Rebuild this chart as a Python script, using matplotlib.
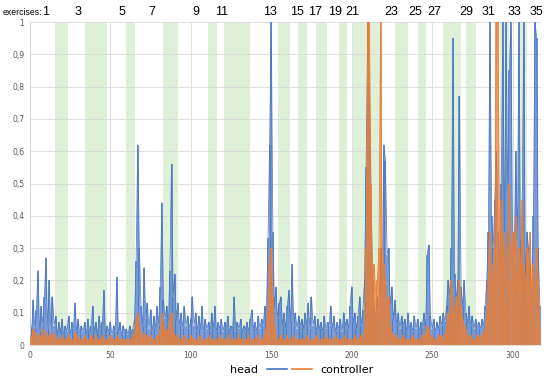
import matplotlib
matplotlib.use("Agg")
import matplotlib.pyplot as plt
import matplotlib.transforms as mtransforms
import numpy as np

# head movement per sample
head = [0.09, 0.03, 0.14, 0.05, 0.11, 0.23, 0.04, 0.12, 0.06, 0.15,
        0.27, 0.05, 0.2, 0.04, 0.15, 0.06, 0.09, 0.03, 0.07, 0.04,
        0.08, 0.03, 0.06, 0.04, 0.09, 0.03, 0.07, 0.05, 0.13, 0.04,
        0.08, 0.03, 0.06, 0.04, 0.07, 0.03, 0.08, 0.04, 0.06, 0.12,
        0.04, 0.07, 0.03, 0.09, 0.05, 0.07, 0.17, 0.03, 0.06, 0.04,
        0.07, 0.03, 0.06, 0.04, 0.21, 0.04, 0.07, 0.03, 0.06, 0.04,
        0.05, 0.03, 0.06, 0.04, 0.05, 0.08, 0.26, 0.62, 0.3, 0.12,
        0.06, 0.24, 0.08, 0.13, 0.05, 0.11, 0.04, 0.09, 0.05, 0.12,
        0.06, 0.18, 0.44, 0.14, 0.08, 0.12, 0.06, 0.23, 0.56, 0.15,
        0.22, 0.08, 0.13, 0.06, 0.1, 0.05, 0.12, 0.06, 0.09, 0.05,
        0.08, 0.15, 0.06, 0.1, 0.04, 0.09, 0.05, 0.12, 0.04, 0.08,
        0.05, 0.07, 0.04, 0.1, 0.05, 0.12, 0.04, 0.07, 0.05, 0.08,
        0.04, 0.07, 0.05, 0.09, 0.04, 0.06, 0.05, 0.15, 0.04, 0.07,
        0.05, 0.08, 0.04, 0.06, 0.05, 0.07, 0.04, 0.08, 0.11, 0.05,
        0.07, 0.04, 0.09, 0.05, 0.08, 0.06, 0.12, 0.1, 0.33, 0.62,
        1.0, 0.35, 0.12, 0.18, 0.08, 0.13, 0.15, 0.06, 0.1, 0.05,
        0.12, 0.17, 0.07, 0.25, 0.06, 0.1, 0.05, 0.09, 0.06, 0.08,
        0.05, 0.1, 0.06, 0.13, 0.05, 0.15, 0.06, 0.09, 0.04, 0.08,
        0.05, 0.07, 0.04, 0.09, 0.05, 0.07, 0.06, 0.12, 0.05, 0.09,
        0.04, 0.07, 0.05, 0.08, 0.04, 0.1, 0.06, 0.08, 0.05, 0.12,
        0.18, 0.07, 0.1, 0.05, 0.09, 0.15, 0.06, 0.11, 0.2, 0.55,
        1.0, 0.8, 0.45, 0.2, 0.12, 0.08, 0.15, 0.1, 0.3, 0.12,
        0.62, 0.57, 0.28, 0.3, 0.12, 0.18, 0.08, 0.14, 0.06, 0.1,
        0.05, 0.09, 0.06, 0.08, 0.04, 0.1, 0.05, 0.07, 0.04, 0.09,
        0.05, 0.08, 0.04, 0.07, 0.06, 0.1, 0.05, 0.28, 0.31, 0.09,
        0.05, 0.08, 0.04, 0.07, 0.05, 0.09, 0.06, 0.1, 0.07, 0.12,
        0.2, 0.15, 0.3, 0.95, 0.22, 0.14, 0.2, 0.77, 0.18, 0.12,
        0.2, 0.1, 0.07, 0.12, 0.06, 0.09, 0.05, 0.08, 0.06, 0.07,
        0.05, 0.08, 0.06, 0.12, 0.2, 0.35, 1.0, 0.4, 0.3, 0.45,
        0.6, 0.35, 0.25, 0.5, 1.0, 0.3, 1.0, 0.45, 0.85, 1.0,
        0.35, 0.25, 0.6, 0.3, 1.0, 0.25, 0.4, 1.0, 0.2, 0.35,
        0.3, 0.25, 0.1, 0.4, 1.0, 0.95, 0.3, 0.12]

# controller movement per sample
controller = [0.03, 0.01, 0.05, 0.02, 0.04, 0.01, 0.03, 0.02, 0.05, 0.01,
              0.04, 0.02, 0.03, 0.01, 0.04, 0.02, 0.03, 0.01, 0.02, 0.01,
              0.03, 0.01, 0.02, 0.01, 0.03, 0.01, 0.02, 0.01, 0.04, 0.01,
              0.03, 0.01, 0.02, 0.01, 0.03, 0.01, 0.02, 0.01, 0.03, 0.02,
              0.01, 0.03, 0.01, 0.02, 0.01, 0.03, 0.02, 0.01, 0.02, 0.01,
              0.03, 0.01, 0.02, 0.01, 0.03, 0.01, 0.02, 0.01, 0.02, 0.01,
              0.02, 0.01, 0.02, 0.01, 0.03, 0.04, 0.08, 0.1, 0.06, 0.03,
              0.02, 0.04, 0.02, 0.03, 0.01, 0.03, 0.01, 0.02, 0.01, 0.03,
              0.02, 0.05, 0.1, 0.06, 0.04, 0.05, 0.03, 0.08, 0.1, 0.04,
              0.03, 0.02, 0.03, 0.01, 0.02, 0.01, 0.03, 0.01, 0.02, 0.01,
              0.03, 0.01, 0.02, 0.01, 0.02, 0.01, 0.03, 0.01, 0.02, 0.01,
              0.02, 0.01, 0.03, 0.01, 0.02, 0.01, 0.02, 0.01, 0.03, 0.01,
              0.02, 0.01, 0.02, 0.01, 0.03, 0.01, 0.02, 0.01, 0.02, 0.01,
              0.03, 0.01, 0.02, 0.01, 0.02, 0.01, 0.03, 0.01, 0.02, 0.01,
              0.02, 0.01, 0.03, 0.01, 0.02, 0.02, 0.03, 0.05, 0.12, 0.25,
              0.3, 0.15, 0.06, 0.03, 0.02, 0.01, 0.03, 0.01, 0.02, 0.01,
              0.03, 0.01, 0.02, 0.01, 0.03, 0.01, 0.02, 0.01, 0.02, 0.01,
              0.02, 0.01, 0.03, 0.01, 0.02, 0.01, 0.02, 0.01, 0.03, 0.01,
              0.02, 0.01, 0.02, 0.01, 0.03, 0.01, 0.02, 0.01, 0.02, 0.01,
              0.03, 0.01, 0.02, 0.01, 0.02, 0.01, 0.03, 0.01, 0.02, 0.01,
              0.02, 0.01, 0.03, 0.01, 0.02, 0.02, 0.03, 0.02, 0.05, 0.3,
              1.0, 1.0, 0.5, 0.2, 0.25, 0.15, 0.2, 0.3, 1.0, 0.3,
              0.25, 0.2, 0.12, 0.15, 0.06, 0.04, 0.03, 0.02, 0.03, 0.01,
              0.02, 0.01, 0.03, 0.01, 0.02, 0.01, 0.02, 0.01, 0.03, 0.01,
              0.02, 0.01, 0.02, 0.01, 0.03, 0.02, 0.04, 0.06, 0.05, 0.02,
              0.03, 0.01, 0.02, 0.01, 0.03, 0.02, 0.03, 0.02, 0.03, 0.05,
              0.1, 0.08, 0.2, 0.12, 0.08, 0.15, 0.1, 0.2, 0.12, 0.08,
              0.06, 0.05, 0.03, 0.02, 0.03, 0.01, 0.02, 0.01, 0.03, 0.02,
              0.03, 0.02, 0.04, 0.05, 0.1, 0.2, 0.35, 0.25, 0.15, 0.3,
              1.0, 1.0, 0.3, 0.45, 0.2, 0.35, 0.15, 0.3, 0.5, 0.2,
              0.35, 0.25, 0.4, 0.15, 0.3, 0.2, 0.45, 0.25, 0.15, 0.3,
              0.2, 0.35, 0.15, 0.25, 0.1, 0.3, 0.2, 0.05]

# shaded (even) exercises
band_start = [15.5, 34, 59.6, 83, 110.6, 120.5, 154, 166.5, 177.6, 192,
              201, 226.7, 241, 256.5, 271, 292, 304]
band_end = [23.6, 48, 65, 92, 116, 136.6, 161.5, 172, 184.5, 197,
            218.5, 235, 246, 267.7, 277.6, 298, 309]

# odd exercise labels along the top
ex_labels = ['1', '3', '5', '7', '9', '11', '13', '15', '17', '19', '21',
             '23', '25', '27', '29', '31', '33', '35']
ex_pos = [9.9, 29.8, 57, 75.8, 103, 119, 149, 166, 177, 189.4, 200.6,
          224.8, 239.8, 251.6, 271.4, 285, 301, 315]

fig = plt.figure(figsize=(5.5, 3.8), dpi=100)
ax = fig.add_axes([0.0545, 0.092, 0.93, 0.850])

for s, e in zip(band_start, band_end):
    ax.axvspan(s, e, color='#dff0d8', lw=0, zorder=0)

xh = np.arange(len(head))
xc = np.arange(len(controller))
# each sample as a thin stroke from zero, plus the joining line
ax.vlines(xh, 0, head, color='#4472c4', lw=1.2, alpha=0.85, zorder=2)
ax.plot(xh, head, color='#4472c4', lw=0.6, alpha=0.9, zorder=2)
ax.vlines(xc, 0, controller, color='#ed7d31', lw=1.2, alpha=0.9, zorder=3)
ax.plot(xc, controller, color='#ed7d31', lw=0.6, zorder=3)

ax.set_xlim(0, 318)
ax.set_ylim(0, 1)
ax.set_xticks(np.arange(0, 301, 50))
ax.set_yticks(np.arange(0, 1.01, 0.1))
ax.set_yticklabels(['0'] + ['0,%d' % i for i in range(1, 10)] + ['1'])
ax.tick_params(length=0, labelsize=5.5, labelcolor='#595959', pad=4)
ax.grid(True, color='#d9d9d9', lw=0.6, zorder=1)
ax.set_axisbelow(True)
for side in ['top', 'right']:
    ax.spines[side].set_visible(False)
for side in ['left', 'bottom']:
    ax.spines[side].set_color('#d9d9d9')
    ax.spines[side].set_linewidth(0.6)

trans = mtransforms.blended_transform_factory(ax.transData, ax.transAxes)
for lab, xp in zip(ex_labels, ex_pos):
    ax.text(xp, 1.031, lab, transform=trans, ha='center', va='center',
            fontsize=9, family='Liberation Sans')
ax.text(7.4, 1.031, 'exercises:', transform=trans, ha='right', va='center',
        fontsize=6.2, family=['Liberation Sans Narrow', 'Liberation Sans'])

h1, = ax.plot([], [], color='#4472c4', lw=1.2)
h2, = ax.plot([], [], color='#ed7d31', lw=1.2)
fig.legend([h1], ['head'], loc='center', bbox_to_anchor=(0.47, 0.027),
           frameon=False, markerfirst=False, fontsize=8, handlelength=1.8)
fig.legend([h2], ['controller'], loc='center', bbox_to_anchor=(0.605, 0.027),
           frameon=False, fontsize=8, handlelength=1.8)

fig.savefig('out.png', dpi=100)
